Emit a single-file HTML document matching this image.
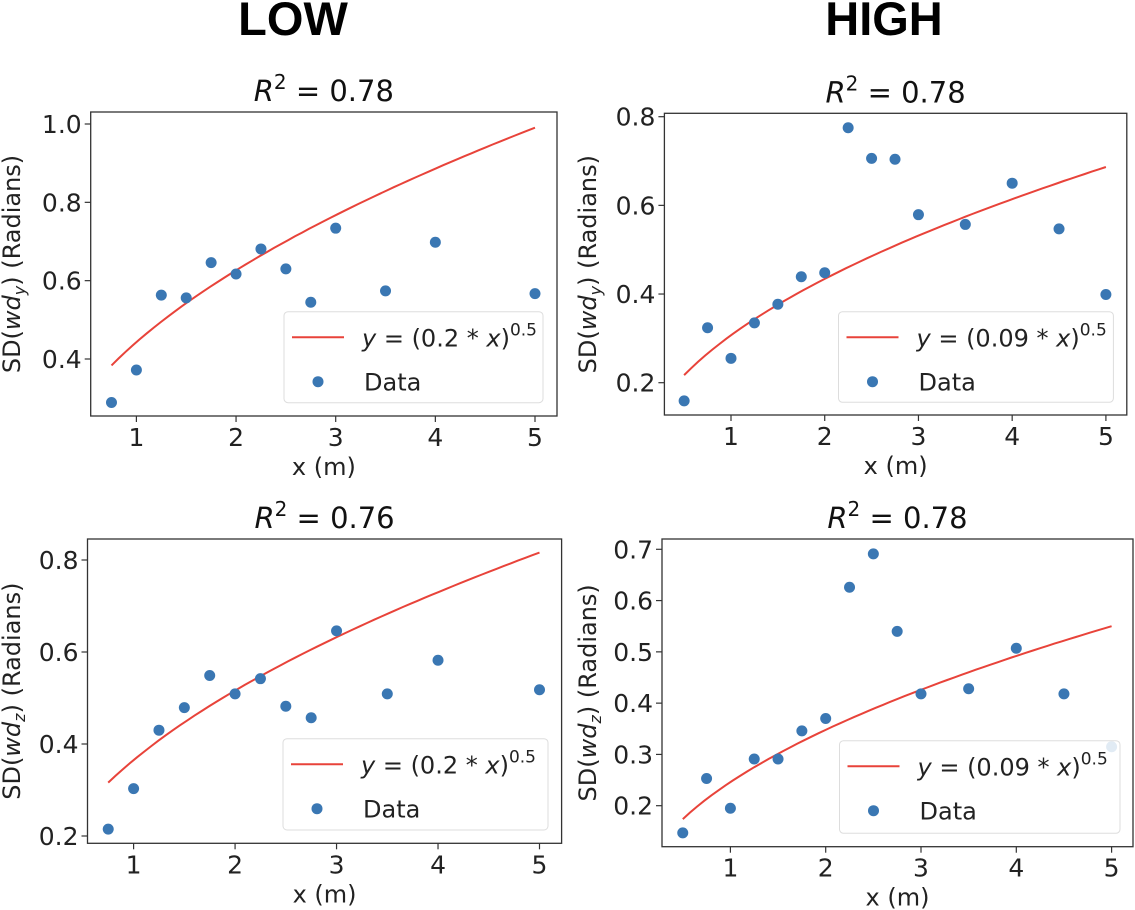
<!DOCTYPE html>
<html><head><meta charset="utf-8">
<style>
html,body{margin:0;padding:0;background:#fff;}
svg{display:block;font-family:"DejaVu Sans","Liberation Sans",sans-serif;}
</style></head>
<body>
<svg id="fig" width="1135" height="910" viewBox="0 0 1135 910" xmlns="http://www.w3.org/2000/svg">
<text x="293" y="35" font-family="Liberation Sans, sans-serif" font-weight="bold" font-size="47" text-anchor="middle">LOW</text>
<text x="884" y="35" font-family="Liberation Sans, sans-serif" font-weight="bold" font-size="47" text-anchor="middle">HIGH</text>
</svg>
<script>
// Panel data
const xLowY = [0.75,1,1.25,1.5,1.75,2,2.25,2.5,2.75,3,3.5,4,5];
const yLowY = [0.289,0.372,0.563,0.556,0.646,0.617,0.681,0.630,0.545,0.734,0.574,0.698,0.567];
const xHighY = [0.5,0.75,1,1.25,1.5,1.75,2,2.25,2.5,2.75,3,3.5,4,4.5,5];
const yHighY = [0.159,0.324,0.255,0.335,0.377,0.439,0.448,0.775,0.706,0.704,0.579,0.557,0.650,0.547,0.399];
const xLowZ = [0.75,1,1.25,1.5,1.75,2,2.25,2.5,2.75,3,3.5,4,5];
const yLowZ = [0.215,0.303,0.430,0.479,0.549,0.509,0.542,0.482,0.457,0.646,0.509,0.582,0.518];
const xHighZ = [0.5,0.75,1,1.25,1.5,1.75,2,2.25,2.5,2.75,3,3.5,4,4.5,5];
const yHighZ = [0.147,0.253,0.195,0.291,0.291,0.346,0.370,0.626,0.691,0.540,0.418,0.428,0.507,0.418,0.315];
const fitCoef = [0.443,0.307,0.365,0.246];
const xTicks = [1,2,3,4,5];
const yTicksLowY = [0.4,0.6,0.8,1.0];
const yTicksHighY = [0.2,0.4,0.6,0.8];
const yTicksLowZ = [0.2,0.4,0.6,0.8];
const yTicksHighZ = [0.2,0.3,0.4,0.5,0.6,0.7];
const titles = ["0.78","0.78","0.76","0.78"];
const fitLabels = ["0.2","0.09","0.2","0.09"];

const NS="http://www.w3.org/2000/svg";
const svg=document.getElementById('fig');
function mk(tag,attrs,parent){const e=document.createElementNS(NS,tag);for(const k in attrs)e.setAttribute(k,attrs[k]);(parent||svg).appendChild(e);return e;}

const panels=[
 {name:'low-y',box:[90.7,112,557,416],xr:[1,136.4,5,535],yr:[1.0,124,0.4,359],xs:xLowY,ys:yLowY,yt:yTicksLowY,sub:'y',leg:[284,311.7,543,402.7],fx:[0.75,5]},
 {name:'high-y',box:[664.4,113.3,1126.8,415],xr:[1,731,5,1105.9],yr:[0.8,116.7,0.2,382.7],xs:xHighY,ys:yHighY,yt:yTicksHighY,sub:'y',leg:[838.5,311.7,1113.4,402.3],fx:[0.5,5]},
 {name:'low-z',box:[87.5,539,561.6,843.3],xr:[1,133.6,5,539.5],yr:[0.8,560,0.2,836],xs:xLowZ,ys:yLowZ,yt:yTicksLowZ,sub:'z',leg:[283,738.7,548,830],fx:[0.75,5]},
 {name:'high-z',box:[662,539,1133,846.7],xr:[1,730.4,5,1111.6],yr:[0.7,549.3,0.2,805.7],xs:xHighZ,ys:yHighZ,yt:yTicksHighZ,sub:'z',leg:[839.5,740.7,1120,833.3],fx:[0.5,5]}
];

panels.forEach((p,i)=>{
 const g=mk('g',{});
 
 
 const [l,t,r,b]=p.box;
 const X=v=>p.xr[1]+(v-p.xr[0])*(p.xr[3]-p.xr[1])/(p.xr[2]-p.xr[0]);
 const Y=v=>p.yr[1]+(v-p.yr[0])*(p.yr[3]-p.yr[1])/(p.yr[2]-p.yr[0]);
 const tt=mk('text',{x:(l+r)/2,y:t-11,'font-size':29,'text-anchor':'middle',fill:'#111'},g);
 
 
 tt.innerHTML='<tspan font-style="italic">R</tspan><tspan dy="-12" font-size="20">2</tspan><tspan dy="12"> = '+titles[i]+'</tspan>';
 xTicks.forEach(v=>{
  const x=X(v);
  mk('line',{x1:x,x2:x,y1:b,y2:b+6,stroke:'#333','stroke-width':1.2},g);
  const tl=mk('text',{x:x,y:b+30,'font-size':25,'text-anchor':'middle',fill:'#222'},g);
  
  
  tl.textContent=v;
 });
 p.yt.forEach(v=>{
  const y=Y(v);
  mk('line',{x1:l-6,x2:l,y1:y,y2:y,stroke:'#333','stroke-width':1.2},g);
  const tl=mk('text',{x:l-9,y:y+9,'font-size':25,'text-anchor':'end',fill:'#222'},g);
  
  
  tl.textContent=v.toFixed(1);
 });
 const xl=mk('text',{x:(l+r)/2,y:b+59,'font-size':24,'text-anchor':'middle',fill:'#222'},g);
 
 
 xl.textContent='x (m)';
 const cy=(t+b)/2, cx=(i%2===0)?20:596;
 const yl=mk('text',{x:cx,y:cy,'font-size':24,'text-anchor':'middle',fill:'#222',transform:'rotate(-90 '+cx+' '+cy+')'},g);
 
 
 yl.innerHTML='SD(<tspan font-style="italic">wd</tspan><tspan font-style="italic" font-size="16" dy="5">'+p.sub+'</tspan><tspan dy="-5">) (Radians)</tspan>';
 let d='';
 for(let k=0;k<=60;k++){const xv=p.fx[0]+(p.fx[1]-p.fx[0])*k/60;d+=(k?'L':'M')+X(xv).toFixed(1)+' '+Y(fitCoef[i]*Math.sqrt(xv)).toFixed(1);}
 const fc=mk('path',{d:d,fill:'none',stroke:'#e8433a','stroke-width':2},g);
 
 
 p.xs.forEach((xv,k)=>{
  const c=mk('circle',{cx:X(xv),cy:Y(p.ys[k]),r:5.5,fill:'#3a77b3'},g);
  
  
 });
 mk('rect',{x:l,y:t,width:r-l,height:b-t,fill:'none',stroke:'#333','stroke-width':1.3},g);
 const [ll,lt,lr,lb]=p.leg;
 const lg=mk('g',{},g);
 
 
 mk('rect',{x:ll,y:lt,width:lr-ll,height:lb-lt,rx:4,fill:'#fff','fill-opacity':0.85,stroke:'#ddd','stroke-width':1},lg);
 mk('line',{x1:ll+8,x2:ll+60,y1:lt+25.5,y2:lt+25.5,stroke:'#e8433a','stroke-width':2},lg);
 const lt1=mk('text',{x:ll+78,y:lt+35,'font-size':24,fill:'#222'},lg);
 
 
 lt1.innerHTML='<tspan font-style="italic">y</tspan> = ('+fitLabels[i]+' * <tspan font-style="italic">x</tspan>)<tspan dy="-11" font-size="17">0.5</tspan>';
 mk('circle',{cx:ll+34,cy:lt+70,r:5.5,fill:'#3a77b3'},lg);
 const lt2=mk('text',{x:ll+80,y:lt+79,'font-size':24,fill:'#222'},lg);
 
 
 lt2.textContent='Data';
});
</script>
</body></html>
